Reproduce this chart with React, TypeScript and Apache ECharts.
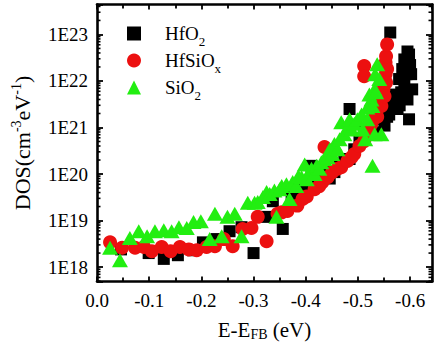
import React, { useEffect, useRef } from "react";
import * as echarts from "echarts";

// E - E_FB (eV), DOS (cm^-3 eV^-1)
const hfo2: [number, number][] = [
  [-0.046, 2.4e18], [-0.099, 2.0e18], [-0.128, 1.5e18], [-0.155, 1.8e18], [-0.184, 2.3e18],
  [-0.203, 3.4e18], [-0.229, 4.0e18], [-0.254, 5.9e18], [-0.277, 7.2e18], [-0.300, 2.0e18],
  [-0.325, 1.2e19], [-0.337, 2.6e19], [-0.356, 6.6e18], [-0.373, 3.2e19], [-0.394, 4.7e19],
  [-0.400, 4.0e19], [-0.411, 1.5e20], [-0.423, 7.7e19], [-0.436, 1.1e20], [-0.446, 8.0e19],
  [-0.455, 1.1e20], [-0.465, 1.6e20], [-0.474, 2.1e20], [-0.484, 2.1e20], [-0.484, 2.5e21],
  [-0.493, 3.4e20], [-0.503, 5.6e20], [-0.512, 9.1e20], [-0.522, 1.2e21], [-0.532, 1.5e21],
  [-0.537, 7.9e20], [-0.551, 1.1e21], [-0.556, 1.7e21], [-0.560, 1.9e21], [-0.566, 2.9e21],
  [-0.570, 5.1e21], [-0.576, 4.0e21], [-0.576, 2.5e21], [-0.579, 1.1e22], [-0.583, 5.7e21],
  [-0.585, 1.8e22], [-0.589, 8.5e21], [-0.589, 2.9e22], [-0.593, 1.4e22], [-0.595, 2.5e22],
  [-0.595, 4.3e22], [-0.595, 4.0e21], [-0.598, 1.5e21], [-0.598, 3.7e22], [-0.602, 1.4e22],
  [-0.604, 6.6e21], [-0.562, 1.1e23], [-0.580, 3.0e21], [-0.600, 2.2e22],
];

const hfsiox: [number, number][] = [
  [-0.025, 3.4e18], [-0.048, 2.6e18], [-0.073, 2.6e18], [-0.090, 2.7e18], [-0.105, 2.2e18],
  [-0.124, 2.7e18], [-0.141, 2.2e18], [-0.159, 2.7e18], [-0.176, 2.4e18], [-0.191, 2.3e18],
  [-0.210, 2.7e18], [-0.226, 2.8e18], [-0.243, 4.0e18], [-0.260, 2.8e18], [-0.279, 6.6e18],
  [-0.296, 6.9e18], [-0.308, 1.2e19], [-0.325, 3.6e18], [-0.346, 1.4e19], [-0.354, 1.5e19],
  [-0.365, 1.6e19], [-0.384, 2.1e19], [-0.394, 2.9e19], [-0.402, 3.3e19], [-0.417, 4.7e19],
  [-0.426, 5.5e19], [-0.432, 6.7e19], [-0.436, 3.8e20], [-0.442, 8.5e19], [-0.451, 1.1e20],
  [-0.461, 1.3e20], [-0.468, 1.4e20], [-0.480, 1.9e20], [-0.488, 2.3e20], [-0.493, 2.7e20],
  [-0.503, 4.0e20], [-0.512, 5.1e20], [-0.518, 7.2e20], [-0.522, 9.1e20], [-0.526, 1.2e21],
  [-0.532, 1.6e21], [-0.535, 2.2e21], [-0.537, 1.7e21], [-0.541, 4.0e21], [-0.545, 2.9e21],
  [-0.549, 6.6e21], [-0.551, 4.7e21], [-0.553, 1.4e22], [-0.553, 2.5e22], [-0.554, 9.3e21],
  [-0.556, 1.8e22], [-0.554, 3.4e22], [-0.556, 6.1e22], [-0.512, 2.1e22], [-0.512, 1.26e22],
];

const sio2: [number, number][] = [
  [-0.025, 2.6e18], [-0.044, 1.4e18], [-0.063, 4.2e18], [-0.080, 5.9e18], [-0.096, 4.6e18],
  [-0.111, 5.9e18], [-0.128, 6.2e18], [-0.143, 5.9e18], [-0.157, 7.2e18], [-0.172, 6.9e18],
  [-0.185, 9.3e18], [-0.199, 9.7e18], [-0.216, 4.0e18], [-0.226, 1.4e19], [-0.239, 4.6e18],
  [-0.250, 1.2e19], [-0.264, 1.4e19], [-0.277, 4.6e18], [-0.289, 2.4e19], [-0.302, 2.4e19],
  [-0.308, 2.5e19], [-0.318, 3.2e19], [-0.325, 4.1e19], [-0.331, 3.7e19], [-0.340, 4.4e19],
  [-0.344, 1.2e19], [-0.350, 4.7e19], [-0.354, 5.5e19], [-0.363, 6.0e19], [-0.369, 2.9e19],
  [-0.375, 6.7e19], [-0.382, 5.5e19], [-0.386, 9.0e19], [-0.392, 8.5e19], [-0.398, 1.6e20],
  [-0.402, 7.7e19], [-0.407, 1.1e20], [-0.411, 1.3e20], [-0.417, 1.0e20], [-0.421, 1.5e20],
  [-0.426, 1.3e20], [-0.430, 1.8e20], [-0.436, 2.1e20], [-0.442, 2.3e20], [-0.446, 3.4e20],
  [-0.451, 2.7e20], [-0.455, 4.4e20], [-0.461, 3.4e20], [-0.465, 5.6e20], [-0.468, 1.3e21],
  [-0.474, 7.2e20], [-0.480, 1.0e21], [-0.484, 1.5e21], [-0.488, 9.1e20], [-0.493, 1.2e21],
  [-0.499, 1.5e21], [-0.507, 1.9e21], [-0.509, 9.1e20], [-0.514, 5.6e20], [-0.518, 2.7e21],
  [-0.518, 1.5e21], [-0.522, 5.1e21], [-0.526, 4.0e21], [-0.528, 2.9e21], [-0.528, 1.5e20],
  [-0.532, 6.6e21], [-0.532, 7.2e20], [-0.533, 1.4e22], [-0.535, 5.7e21], [-0.537, 2.3e22],
  [-0.541, 1.1e22], [-0.545, 7.2e20],
];

const seriesNames = ["HfO2", "HfSiOx", "SiO2"];
const legendLabels: Record<string, string> = {
  HfO2: "HfO{s|2}",
  HfSiOx: "HfSiO{s|x}",
  SiO2: "SiO{s|2}",
};
const xTickValues = [0, 0.1, 0.2, 0.3, 0.4, 0.5, 0.6];
const X_MAX = 0.642;
const Y_MIN = 4.9e17;
const Y_MAX = 4.4e23;

const FONT = "Liberation Serif";

export default function App() {
  const ref = useRef<HTMLDivElement>(null);
  useEffect(() => {
    if (!ref.current) return;
    const chart = echarts.init(ref.current, null, { renderer: "svg" });

    const minorVals: number[] = [];
    for (let k = 17; k <= 23; k++) {
      for (let m = 2; m <= 9; m++) {
        const v = m * Math.pow(10, k);
        if (v > Y_MIN && v < Y_MAX) minorVals.push(v);
      }
    }

    const toPlot = (arr: [number, number][]) => arr.map(([e, d]) => [Math.abs(e), d]);

    const axisLine = { show: true, onZero: false, lineStyle: { color: "#000", width: 2.6 } };
    const xCommon = {
      type: "value" as const,
      min: 0,
      max: X_MAX,
      interval: 0.1,
      splitLine: { show: false },
      axisLine,
      axisTick: { show: true, inside: true, length: 5, lineStyle: { color: "#000", width: 1.8 } },
      minorTick: { show: true, splitNumber: 2, length: 4, lineStyle: { color: "#000", width: 1.8 } },
    };
    const yCommon = {
      type: "log" as const,
      logBase: 10,
      min: Y_MIN,
      max: Y_MAX,
      splitLine: { show: false },
      axisLine,
      axisTick: { show: true, inside: true, length: 6, lineStyle: { color: "#000", width: 1.8 } },
    };

    const option: any = {
      animation: false,
      backgroundColor: "#fff",
      textStyle: { fontFamily: FONT },
      grid: { left: 97, right: 2, top: 4.5, bottom: 66.5 },
      legend: {
        data: seriesNames,
        orient: "vertical",
        left: 122,
        top: 19,
        itemWidth: 14,
        itemHeight: 14,
        itemGap: 3.5,
        formatter: (name: string) => legendLabels[name],
        textStyle: {
          fontFamily: FONT,
          fontSize: 19,
          color: "#000",
          padding: [0, 0, 0, 19],
          rich: {
            s: { fontFamily: FONT, fontSize: 13, color: "#000", padding: [15, 0, 0, 0] },
          },
        },
      },
      xAxis: [
        {
          ...xCommon,
          position: "bottom",
          axisLabel: {
            show: true,
            margin: 9,
            fontSize: 19,
            fontFamily: FONT,
            color: "#000",
            formatter: (v: number) =>
              xTickValues.some((t) => Math.abs(t - v) < 1e-6) ? (v === 0 ? "0.0" : "-" + v.toFixed(1)) : "",
          },
          name: "{m|E-E}{sb|FB}{m| (eV)}",
          nameLocation: "middle",
          nameGap: 36,
          nameTextStyle: {
            fontFamily: FONT,
            fontSize: 21,
            color: "#000",
            rich: {
              m: { fontFamily: FONT, fontSize: 21, color: "#000" },
              sb: { fontFamily: FONT, fontSize: 14, color: "#000", padding: [10, 0, 0, 0] },
            },
          },
        },
        { ...xCommon, position: "top", axisLabel: { show: false } },
      ],
      yAxis: [
        {
          ...yCommon,
          position: "left",
          axisLabel: {
            show: true,
            margin: 9,
            fontSize: 19,
            fontFamily: FONT,
            color: "#000",
            formatter: (v: number) => {
              const l = Math.log10(v);
              return Math.abs(l - Math.round(l)) < 0.01 ? "1E" + Math.round(l) : "";
            },
          },
          name: "{m|DOS(cm}{sp|-3}{m|eV}{sp|-1}{m|)}",
          nameLocation: "middle",
          nameGap: 62,
          nameTextStyle: {
            fontFamily: FONT,
            fontSize: 22,
            color: "#000",
            rich: {
              m: { fontFamily: FONT, fontSize: 22, color: "#000" },
              sp: { fontFamily: FONT, fontSize: 14, color: "#000", padding: [0, 0, 12, 0] },
            },
          },
        },
        { ...yCommon, position: "right", axisLabel: { show: false } },
      ],
      series: [
        {
          name: "HfO2",
          type: "scatter",
          symbol: "rect",
          symbolSize: 12,
          itemStyle: { color: "#000000", opacity: 1 },
          data: toPlot(hfo2),
        },
        {
          name: "HfSiOx",
          type: "scatter",
          symbol: "circle",
          symbolSize: 14,
          itemStyle: { color: "#ec1010", opacity: 1 },
          data: toPlot(hfsiox),
        },
        {
          name: "SiO2",
          type: "scatter",
          symbol: "triangle",
          symbolSize: [16, 14],
          itemStyle: { color: "#22ee11", opacity: 1 },
          data: toPlot(sio2),
        },
        {
          type: "custom",
          coordinateSystem: "cartesian2d",
          silent: true,
          clip: false,
          z: 5,
          data: minorVals.map((v) => [0, v]),
          renderItem: (_params: any, api: any) => {
            const v = api.value(1);
            const l = api.coord([0, v]);
            const r = api.coord([X_MAX, v]);
            const st = { stroke: "#000", lineWidth: 1.6 };
            return {
              type: "group",
              children: [
                { type: "line", shape: { x1: l[0], y1: l[1], x2: l[0] + 3.5, y2: l[1] }, style: st },
                { type: "line", shape: { x1: r[0], y1: r[1], x2: r[0] - 3.5, y2: r[1] }, style: st },
              ],
            };
          },
        },
      ],
    };
    chart.setOption(option);
    return () => chart.dispose();
  }, []);

  return (
    <div
      ref={ref}
      style={{ position: "fixed", left: 0, top: 0, width: 435, height: 348, background: "#fff" }}
    />
  );
}
